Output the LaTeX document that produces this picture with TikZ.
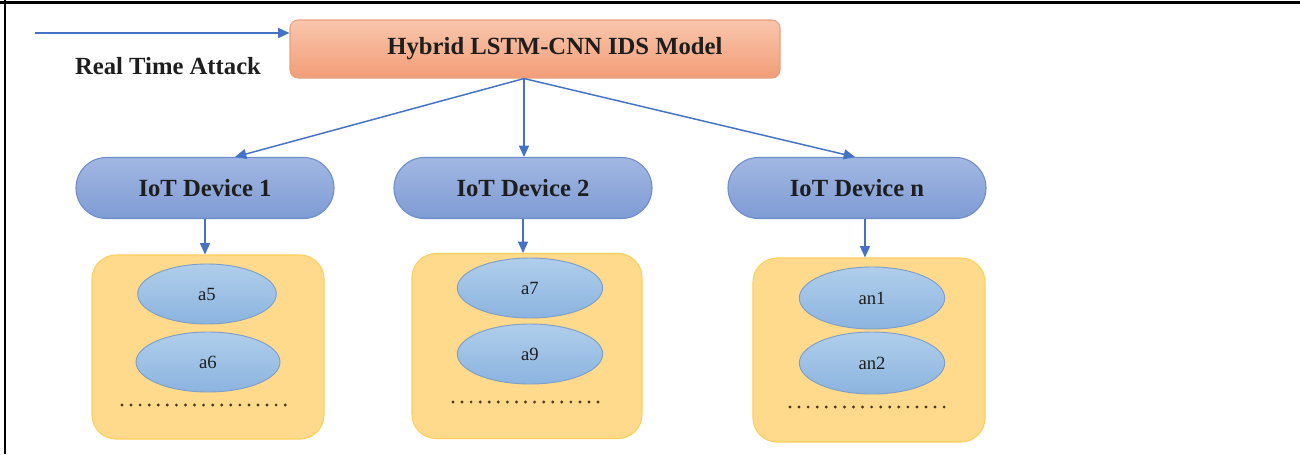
\documentclass[tikz,border=0pt]{standalone}
\usepackage{fontspec}
\setmainfont{Liberation Serif}
\usetikzlibrary{arrows.meta,calc,shapes.geometric}
\definecolor{flow}{HTML}{4472C4}
\definecolor{inktext}{HTML}{1E1E1E}
\definecolor{salmonedge}{HTML}{E9A07E}
\definecolor{salmontop}{HTML}{F9C6AC}
\definecolor{salmonbot}{HTML}{F29D78}
\definecolor{devedge}{HTML}{6E8DC8}
\definecolor{devtop}{HTML}{A2B8E3}
\definecolor{devbot}{HTML}{7E9BD4}
\definecolor{grpedge}{HTML}{FFCF5C}
\definecolor{grpfill}{HTML}{FFD98C}
\definecolor{attedge}{HTML}{7F9FC6}
\definecolor{atttop}{HTML}{B0CEEB}
\definecolor{attbot}{HTML}{8BB4DF}
\definecolor{dotink}{HTML}{4A3A1E}
\tikzset{
  link/.style={draw=flow, line width=1.1pt, -{Triangle[length=8.5pt,width=7.5pt]}},
  modelbox/.style={draw=salmonedge, line width=0.8pt, rounded corners=6pt,
    top color=salmontop, bottom color=salmonbot,
    minimum width=367.5pt, minimum height=43.5pt, inner sep=0pt,
    font=\bfseries\fontsize{18.5}{20}\selectfont, text=inktext},
  devicebox/.style={draw=devedge, line width=0.8pt, rounded corners=22.8pt,
    top color=devtop, bottom color=devbot,
    minimum width=193.5pt, minimum height=45.75pt, inner sep=0pt,
    font=\bfseries\fontsize{18.5}{20}\selectfont, text=inktext},
  groupbox/.style={draw=grpedge, line width=0.8pt, rounded corners=18pt,
    fill=grpfill, minimum width=174pt, minimum height=138pt, inner sep=0pt},
  attackbox/.style={draw=attedge, line width=0.7pt, ellipse,
    top color=atttop, bottom color=attbot,
    minimum width=108pt, minimum height=45pt, inner sep=0pt,
    font=\fontsize{14}{16}\selectfont, text=inktext},
  leader/.style={draw=dotink, line width=2.4pt, line cap=round,
    dash pattern=on 0pt off 6.8pt},
  frameline/.style={draw=black, line width=2.2pt}
}
\begin{document}
\begin{tikzpicture}[x=0.75pt, y=-0.75pt]
\useasboundingbox (0,0) rectangle (1300,454);
\fill[white] (0,0) rectangle (1300,454);

% outer frame: top and left edges only
\draw[frameline] (0,2.8) -- (1300,2.8);
\draw[frameline] (5,0) -- (5,454);

% model
\node[modelbox] (hy) at (535,49) {\hspace*{30pt}Hybrid LSTM-CNN IDS Model};
\coordinate (fan) at ($(hy.south)+(-11,0)$);

% incoming attack
\coordinate (att) at (35,33);
\draw[link] (att) -- (att -| hy.west);
\node[font=\bfseries\fontsize{18.5}{20}\selectfont, text=inktext] (attlbl) at (168,66) {Real Time Attack};

% devices
\node[devicebox] (d1) at (205,188) {IoT Device 1};
\node[devicebox] (d2) at (523,188) {IoT Device 2};
\node[devicebox] (d3) at (857,188) {IoT Device n};

% attack groups
\node[groupbox, minimum width=174pt, minimum height=138pt] (g1) at (208,347) {};
\node[groupbox, minimum width=172.5pt, minimum height=138.75pt] (g2) at (527,346) {};
\node[groupbox, minimum width=174pt, minimum height=138pt] (g3) at (869,350) {};

\node[attackbox, minimum width=104pt] (a5) at (207,294) {a5};
\node[attackbox] (a6) at (208,362) {a6};
\node[attackbox, minimum width=109pt] (a7) at (530,288) {a7};
\node[attackbox, minimum width=109pt] (a9) at (530,354) {a9};
\node[attackbox, minimum width=109pt, minimum height=46.5pt] (an1) at (872,298) {an1};
\node[attackbox, minimum width=109pt, minimum height=46.5pt] (an2) at (872,363) {an2};

% continuation dots
\draw[leader] (122,405) -- (288,405);
\draw[leader] (453,402) -- (600,402);
\draw[leader] (790,407) -- (948,407);

% model to devices
\draw[link] (fan) -- ($(d1.north)+(30,0)$);
\draw[link] (fan) -- ($(d2.north)+(1,0)$);
\draw[link] (fan) -- ($(d3.north)+(-2,0)$);

% devices to their attack groups
\draw[link] (d1.south) -- (d1.south |- g1.north);
\draw[link] (d2.south) -- (d2.south |- g2.north);
\draw[link] ($(d3.south)+(8,0)$) -- ($(d3.south |- g3.north)+(8,0)$);
\end{tikzpicture}
\end{document}
